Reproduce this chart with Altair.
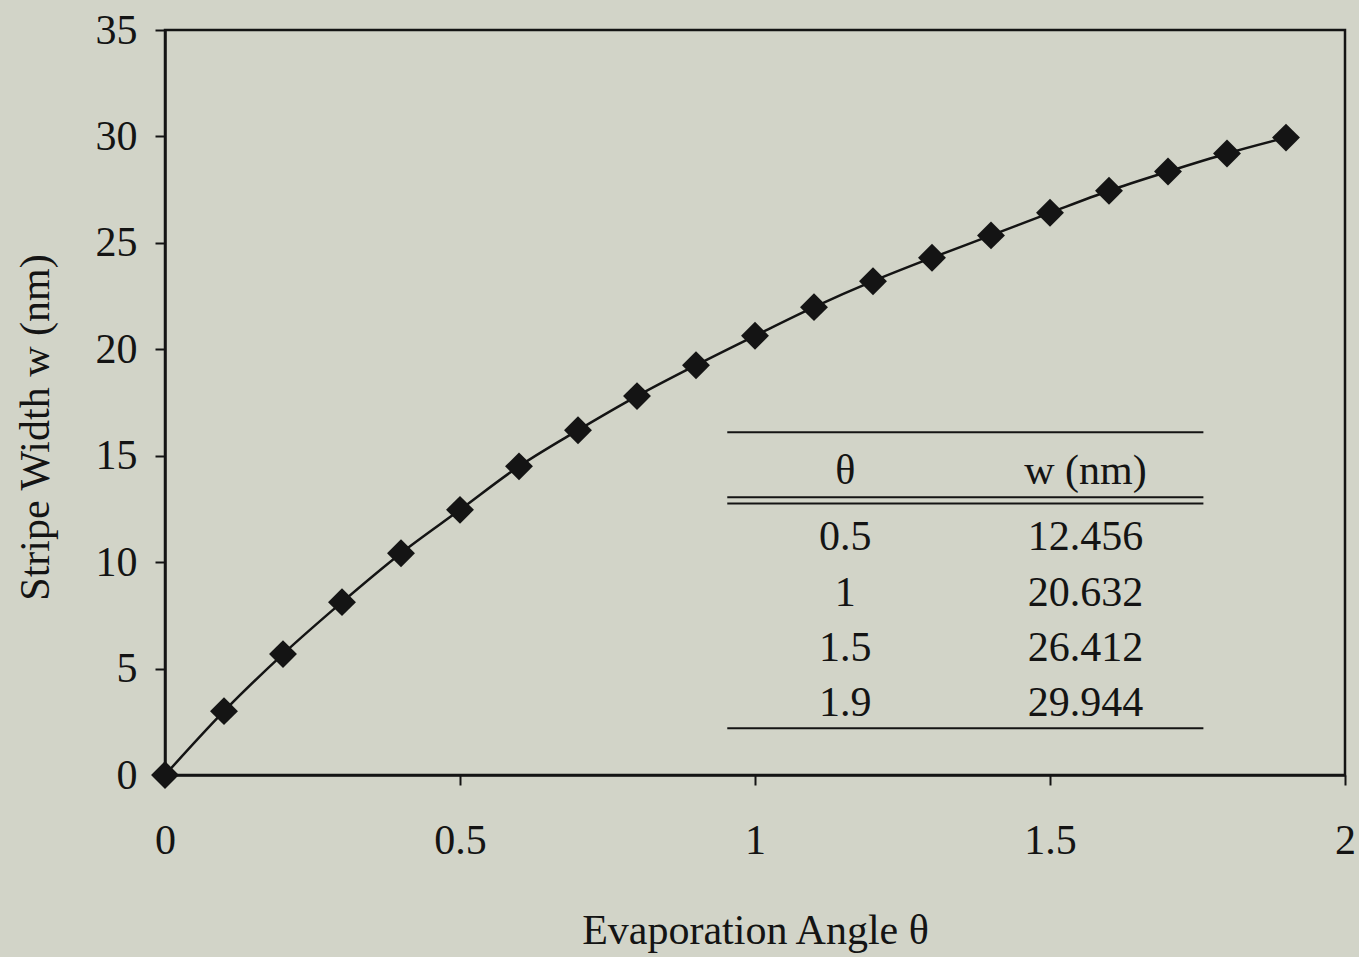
import altair as alt
import pandas as pd

# Stripe width versus evaporation angle
theta = [0.0, 0.1, 0.2, 0.3, 0.4, 0.5, 0.6, 0.7, 0.8, 0.9,
         1.0, 1.1, 1.2, 1.3, 1.4, 1.5, 1.6, 1.7, 1.8, 1.9]
width_nm = [0.0, 3.0, 5.68, 8.12, 10.42, 12.456, 14.5, 16.2, 17.8, 19.25,
            20.632, 21.98, 23.2, 24.3, 25.35, 26.412, 27.45, 28.35, 29.2, 29.944]

# Inset table of selected values
table_theta = ["0.5", "1", "1.5", "1.9"]
table_w = ["12.456", "20.632", "26.412", "29.944"]
header = ["θ", "w (nm)"]

# Inset table geometry in data units
col_x = [1.153, 1.56]
header_y = 14.3
row_y = [11.17, 8.54, 5.96, 3.38]
rule_x = [0.953, 1.76]
rule_y = [16.1, 13.05, 12.75, 2.2]

FONT = "Liberation Serif"
INK = "#141414"
BG = "#d2d4c8"

curve = pd.DataFrame({"theta": theta, "w": width_nm})

x_scale = alt.Scale(domain=[0, 2], nice=False, zero=False)
y_scale = alt.Scale(domain=[0, 35], nice=False)

# Shared axis definitions so every layer agrees
x_axis = alt.Axis(values=[0, 0.5, 1, 1.5, 2], format="~g",
                  title="Evaporation Angle θ",
                  titleY=155, titleBaseline="middle",
                  labelPadding=55, labelBaseline="middle", labelFlush=False,
                  tickSize=10)
y_axis = alt.Axis(values=[0, 5, 10, 15, 20, 25, 30, 35],
                  title="Stripe Width w (nm)",
                  titleX=-130, titleY=397, titleBaseline="middle",
                  labelPadding=18, labelFlush=False, tickSize=10)

base = alt.Chart(curve)

line = base.mark_line(color=INK, strokeWidth=2.5, interpolate="monotone", clip=False).encode(
    x=alt.X("theta:Q", scale=x_scale, axis=x_axis),
    y=alt.Y("w:Q", scale=y_scale, axis=y_axis),
)

points = base.mark_point(shape="diamond", filled=True, color=INK, size=780,
                         opacity=1, clip=False).encode(
    x=alt.X("theta:Q", scale=x_scale, axis=x_axis),
    y=alt.Y("w:Q", scale=y_scale, axis=y_axis),
)

rules_df = pd.DataFrame({
    "x0": [rule_x[0]] * len(rule_y),
    "x1": [rule_x[1]] * len(rule_y),
    "y": rule_y,
})
rules = alt.Chart(rules_df).mark_rule(color=INK, strokeWidth=2).encode(
    x=alt.X("x0:Q", scale=x_scale, axis=x_axis),
    x2="x1:Q",
    y=alt.Y("y:Q", scale=y_scale, axis=y_axis),
)

cells = [{"x": col_x[0], "y": header_y, "t": header[0]},
         {"x": col_x[1], "y": header_y, "t": header[1]}]
for yy, a, b in zip(row_y, table_theta, table_w):
    cells.append({"x": col_x[0], "y": yy, "t": a})
    cells.append({"x": col_x[1], "y": yy, "t": b})
cells_df = pd.DataFrame(cells)

table_text = alt.Chart(cells_df).mark_text(
    font=FONT, fontSize=42, color=INK, align="center", baseline="middle"
).encode(
    x=alt.X("x:Q", scale=x_scale, axis=x_axis),
    y=alt.Y("y:Q", scale=y_scale, axis=y_axis),
    text="t:N",
)

chart = alt.layer(line, points, rules, table_text).properties(
    width=1180,
    height=745,
    background=BG,
    padding={"left": 165, "top": 30, "right": 14, "bottom": 182},
    autosize=alt.AutoSizeParams(type="none"),
).configure_view(
    stroke=INK, strokeWidth=2.5
).configure_axis(
    grid=False,
    domainColor=INK, domainWidth=2.5,
    tickColor=INK, tickWidth=2,
    labelFont=FONT, labelFontSize=42, labelColor=INK,
    titleFont=FONT, titleFontSize=42, titleColor=INK, titleFontWeight="normal",
)

chart.save("out.html", embed_options={"renderer": "svg", "actions": False})
